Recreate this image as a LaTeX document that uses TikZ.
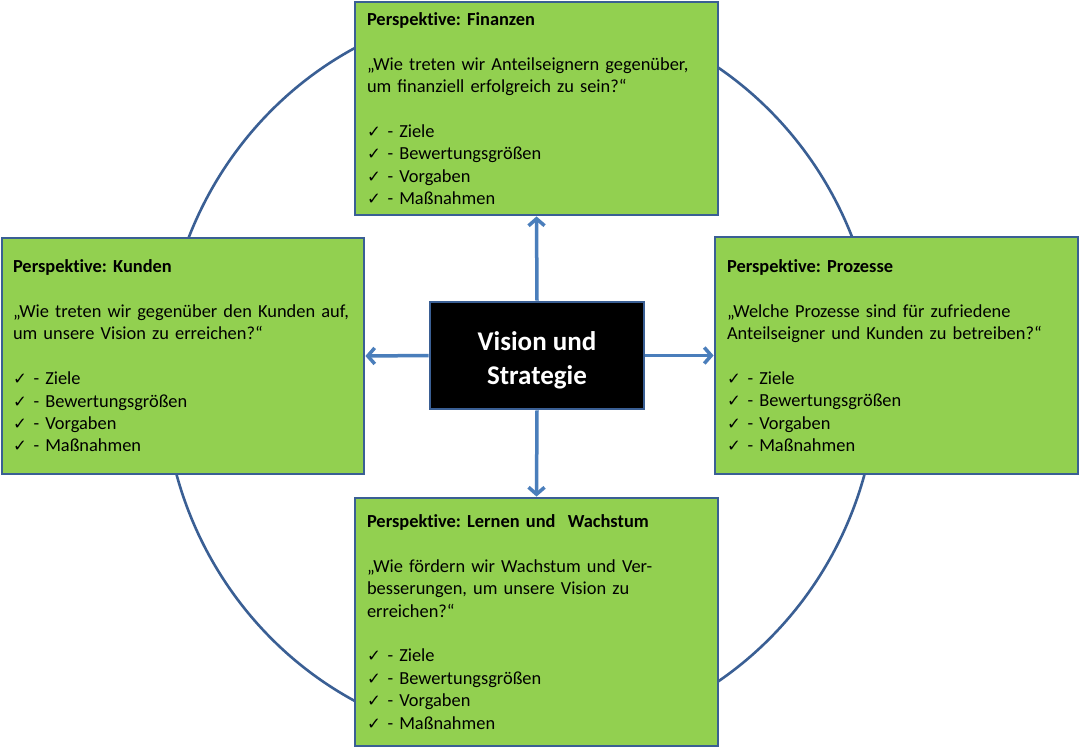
\documentclass[tikz,border=0pt]{standalone}
\usepackage{fontspec}
\setmainfont{Carlito}
\newfontfamily\dejavu{DejaVu Sans}
\usetikzlibrary{arrows.meta}
\definecolor{boxgreen}{HTML}{92D050}
\definecolor{borderblue}{HTML}{3A5F94}
\definecolor{arrowblue}{HTML}{4A7EBB}
\definecolor{circleblue}{HTML}{3A5F94}
\newcommand{\chk}[1]{\makebox[20.5pt][l]{{\dejavu\fontsize{16.5}{16.5}\selectfont ✓}}- #1}
\newcommand{\Persp}{Perspekt\kern0pt ive}
\begin{document}
\frenchspacing
\begin{tikzpicture}[x=1pt,y=-1pt,
  persp/.style={draw=borderblue, line width=2.8pt, fill=boxgreen, inner xsep=12pt, inner ysep=0pt,
    align=left, font=\frenchspacing\fontsize{18.4}{22.4}\selectfont, minimum width=363pt},
  visionbox/.style={draw=borderblue, line width=2.8pt, fill=black, text=white, align=center,
    font=\bfseries\fontsize{27}{34}\selectfont, minimum width=214pt, minimum height=107pt},
  conn/.style={draw=arrowblue, line width=3.5pt, -{Straight Barb[length=7pt,width=16pt]}},
  ring/.style={draw=circleblue, line width=2.6pt}
]
\useasboundingbox (0,0) rectangle (1080,747);
\fill[white] (0,0) rectangle (1080,747);

\draw[ring] (520.5,374.5) ellipse [x radius=357.3, y radius=368.4];

\node[persp, text width=339pt, minimum height=213pt] (fin) at (536.5,108.5) {%
{\bfseries \Persp: Finanzen}\\[22.4pt]
„Wie treten wir Anteilseignern gegenüber,\\
um finanziell erfolgreich zu sein?“\\[22.4pt]
\chk{Ziele}\\
\chk{Bewertungsgrößen}\\
\chk{Vorgaben}\\
\chk{Maßnahmen}};

\node[persp, text width=340pt, minimum width=362pt, minimum height=236pt, inner xsep=11pt] (kun) at (183,356) {%
{\bfseries \Persp: Kunden}\\[22.4pt]
„Wie treten wir gegenüber den Kunden auf,\\
um unsere Vision zu erreichen?“\\[22.4pt]
\chk{Ziele}\\
\chk{Bewertungsgrößen}\\
\chk{Vorgaben}\\
\chk{Maßnahmen}};

\node[persp, text width=339pt, minimum height=237pt] (pro) at (896.5,355.5) {%
{\bfseries \Persp: Prozesse}\\[22.4pt]
„Welche Prozesse sind für zufriedene\\
Anteilseigner und Kunden zu betreiben?“\\[22.4pt]
\chk{Ziele}\\
\chk{Bewertungsgrößen}\\
\chk{Vorgaben}\\
\chk{Maßnahmen}};

\node[persp, text width=339pt, minimum height=248pt] (lern) at (536.5,622) {%
{\bfseries \Persp: Lernen und \ Wachstum}\\[22.4pt]
„Wie fördern wir Wachstum und Ver-\\
besserungen, um unsere Vision zu\\
erreichen?“\\[22.4pt]
\chk{Ziele}\\
\chk{Bewertungsgrößen}\\
\chk{Vorgaben}\\
\chk{Maßnahmen}};

\node[visionbox] (vis) at (537,355.5) {\rule{0pt}{28pt}Vision und\\Strategie};

\draw[conn] (vis.north) -- (fin.south);
\draw[conn] (vis.west) -- (kun.east);
\draw[conn] (vis.east) -- (pro.west);
\draw[conn] (vis.south) -- (lern.north);
\end{tikzpicture}
\end{document}
